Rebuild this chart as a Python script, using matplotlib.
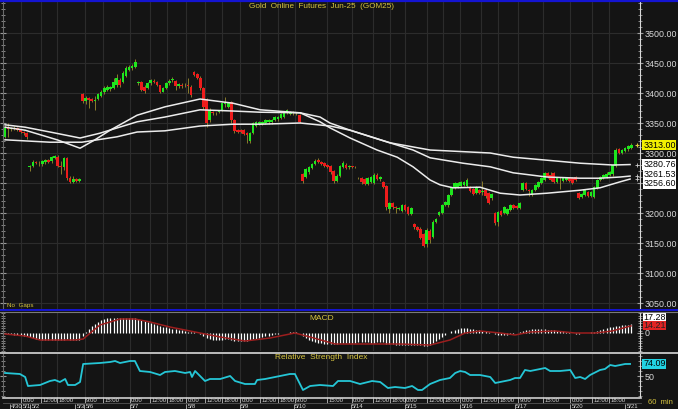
import matplotlib
matplotlib.use('Agg')
import matplotlib.pyplot as plt
import numpy as np
from matplotlib.ticker import MultipleLocator, FuncFormatter
from matplotlib.transforms import blended_transform_factory
from matplotlib.lines import Line2D

plt.rcParams['font.family'] = ['Liberation Sans', 'DejaVu Sans']

# 60 min bars, GOM25
opens = [3327, 3342, 3340, 3341, 3342, 3338, 3335, 3333, 3276, 3279,
         3285, 3283, 3282, 3285, 3288, 3286, 3292, 3294, 3278, 3276,
         3292, 3258, 3252, 3257, 3253, 3399, 3387, 3391, 3390, 3387,
         3390, 3395, 3401, 3405, 3406, 3408, 3413, 3422, 3418, 3428,
         3438, 3441, 3444, 3416, 3418, 3410, 3408, 3416, 3420, 3418,
         3413, 3402, 3408, 3416, 3421, 3420, 3412, 3414, 3413, 3413,
         3410, 3435, 3432, 3425, 3408, 3390, 3355, 3368, 3367, 3368,
         3372, 3382, 3377, 3385, 3355, 3338, 3338, 3338, 3333, 3320,
         3333, 3345, 3348, 3349, 3350, 3351, 3351, 3355, 3356, 3358,
         3360, 3367, 3365, 3366, 3366, 3363, 3265, 3260, 3268, 3275,
         3282, 3288, 3285, 3283, 3280, 3278, 3270, 3254, 3262, 3277,
         3280, 3276, 3278, 3277, 3259, 3258, 3256, 3249, 3252, 3250,
         3263, 3256, 3252, 3245, 3206, 3216, 3210, 3207, 3203, 3213,
         3210, 3198, 3182, 3176, 3174, 3165, 3148, 3170, 3160, 3185,
         3197, 3200, 3213, 3213, 3230, 3242, 3243, 3245, 3247, 3245,
         3243, 3240, 3233, 3238, 3235, 3238, 3233, 3225, 3200, 3185,
         3203, 3200, 3198, 3205, 3213, 3212, 3208, 3238, 3250, 3238,
         3230, 3238, 3243, 3250, 3255, 3266, 3263, 3267, 3252, 3256,
         3254, 3255, 3258, 3258, 3260, 3233, 3227, 3230, 3235, 3228,
         3227, 3242, 3255, 3258, 3260, 3263, 3265, 3278, 3307, 3300,
         3303, 3306, 3309]
closes = [3342, 3340, 3341, 3342, 3338, 3335, 3333, 3326, 3278, 3285,
          3283, 3284, 3286, 3288, 3285, 3293, 3295, 3278, 3276, 3292,
          3258, 3252, 3257, 3253, 3257, 3386, 3391, 3389, 3387, 3389,
          3398, 3402, 3408, 3410, 3410, 3418, 3425, 3413, 3433, 3442,
          3443, 3445, 3452, 3418, 3405, 3404, 3416, 3421, 3418, 3413,
          3402, 3408, 3416, 3420, 3424, 3412, 3415, 3412, 3414, 3412,
          3397, 3430, 3425, 3408, 3377, 3350, 3372, 3366, 3366, 3370,
          3383, 3384, 3383, 3355, 3337, 3335, 3335, 3332, 3330, 3333,
          3350, 3352, 3352, 3352, 3355, 3355, 3355, 3360, 3360, 3365,
          3367, 3372, 3368, 3368, 3367, 3352, 3253, 3273, 3277, 3282,
          3287, 3285, 3282, 3279, 3277, 3268, 3253, 3262, 3278, 3283,
          3275, 3278, 3276, 3276, 3258, 3251, 3249, 3258, 3260, 3263,
          3256, 3260, 3244, 3210, 3216, 3210, 3208, 3208, 3213, 3205,
          3198, 3208, 3176, 3172, 3158, 3145, 3172, 3155, 3185, 3190,
          3202, 3213, 3218, 3230, 3242, 3250, 3250, 3251, 3252, 3255,
          3237, 3232, 3243, 3233, 3236, 3228, 3217, 3232, 3183, 3202,
          3197, 3210, 3207, 3213, 3209, 3208, 3217, 3250, 3240, 3236,
          3238, 3247, 3252, 3258, 3267, 3260, 3255, 3252, 3258, 3257,
          3258, 3258, 3253, 3250, 3255, 3225, 3232, 3238, 3228, 3235,
          3243, 3255, 3260, 3263, 3265, 3268, 3280, 3305, 3300, 3305,
          3308, 3312, 3313]
highs = [3346, 3350, 3344, 3345, 3344, 3340, 3337, 3335, 3280, 3288,
         3287, 3286, 3288, 3290, 3290, 3295, 3297, 3296, 3286, 3294,
         3294, 3262, 3262, 3259, 3259, 3400, 3395, 3394, 3392, 3395,
         3400, 3405, 3411, 3413, 3412, 3425, 3432, 3425, 3436, 3445,
         3446, 3448, 3457, 3420, 3420, 3413, 3418, 3424, 3423, 3420,
         3414, 3410, 3418, 3424, 3427, 3422, 3417, 3416, 3416, 3425,
         3413, 3437, 3434, 3428, 3410, 3392, 3375, 3370, 3369, 3372,
         3385, 3393, 3385, 3387, 3357, 3340, 3340, 3340, 3335, 3335,
         3352, 3354, 3354, 3354, 3357, 3357, 3357, 3362, 3362, 3367,
         3369, 3374, 3370, 3370, 3369, 3365, 3267, 3275, 3279, 3284,
         3290, 3292, 3287, 3285, 3282, 3280, 3272, 3265, 3280, 3286,
         3284, 3280, 3279, 3278, 3260, 3260, 3258, 3260, 3262, 3266,
         3266, 3262, 3254, 3247, 3218, 3218, 3212, 3210, 3215, 3215,
         3212, 3210, 3184, 3178, 3176, 3167, 3175, 3173, 3188, 3192,
         3204, 3215, 3220, 3232, 3244, 3252, 3252, 3253, 3254, 3258,
         3245, 3242, 3245, 3240, 3253, 3240, 3235, 3234, 3202, 3204,
         3205, 3212, 3209, 3215, 3215, 3214, 3219, 3252, 3252, 3240,
         3240, 3249, 3254, 3260, 3269, 3268, 3268, 3269, 3260, 3260,
         3260, 3260, 3260, 3260, 3262, 3235, 3234, 3240, 3237, 3237,
         3245, 3257, 3262, 3265, 3268, 3270, 3282, 3308, 3309, 3307,
         3310, 3314, 3316]
lows = [3325, 3326, 3336, 3338, 3336, 3333, 3330, 3324, 3270, 3277,
        3281, 3278, 3279, 3282, 3283, 3284, 3290, 3276, 3265, 3272,
        3255, 3250, 3250, 3251, 3251, 3383, 3382, 3375, 3385, 3372,
        3388, 3393, 3399, 3403, 3404, 3406, 3410, 3410, 3416, 3426,
        3436, 3439, 3442, 3414, 3403, 3400, 3406, 3414, 3416, 3411,
        3400, 3401, 3406, 3414, 3418, 3405, 3408, 3408, 3410, 3400,
        3393, 3428, 3423, 3405, 3374, 3343, 3352, 3364, 3364, 3366,
        3370, 3377, 3375, 3350, 3334, 3333, 3333, 3330, 3317, 3317,
        3331, 3343, 3346, 3347, 3348, 3349, 3349, 3353, 3354, 3356,
        3358, 3365, 3363, 3364, 3364, 3350, 3250, 3258, 3265, 3273,
        3280, 3283, 3280, 3277, 3275, 3265, 3250, 3252, 3260, 3275,
        3273, 3274, 3275, 3275, 3256, 3249, 3247, 3247, 3250, 3249,
        3255, 3254, 3242, 3205, 3200, 3206, 3200, 3205, 3201, 3203,
        3196, 3196, 3174, 3170, 3156, 3143, 3143, 3150, 3158, 3183,
        3195, 3198, 3211, 3210, 3228, 3240, 3241, 3243, 3245, 3243,
        3235, 3230, 3231, 3231, 3230, 3225, 3215, 3222, 3180, 3178,
        3195, 3198, 3196, 3203, 3207, 3206, 3206, 3236, 3238, 3228,
        3228, 3236, 3241, 3248, 3253, 3258, 3253, 3250, 3250, 3240,
        3252, 3253, 3251, 3248, 3253, 3223, 3225, 3228, 3226, 3226,
        3225, 3240, 3253, 3256, 3258, 3261, 3262, 3276, 3298, 3298,
        3301, 3304, 3307]

# moving averages, read at a few bars
ma_fast_at = [0, 6.5, 16.8, 24.2, 29, 33.9, 42.6, 51.6, 62.9, 73.5, 82.3, 95.2, 101.6,
              104.8, 111.3, 120, 126.5, 131.6, 137.1, 140.3, 144.5, 153.2, 159.7, 166.1,
              174.8, 185.5, 191.9, 198.4, 201.6]
ma_fast = [3343, 3338, 3322, 3308, 3322, 3338, 3363, 3377, 3390, 3383, 3372, 3367, 3352,
           3342, 3325, 3305, 3293, 3277, 3255, 3247, 3242, 3243, 3233, 3230,
           3233, 3238, 3242, 3252, 3256.6]
ma_mid_at = [0, 6.5, 14.5, 24.2, 30.6, 42.6, 51.6, 62.9, 73.5, 82.3, 95.2, 101.6, 104.8,
             111.3, 121, 131.6, 137.1, 147.7, 156.5, 163.9, 174.8, 185.5, 191.9, 198.4, 201.6]
ma_mid = [3347, 3343, 3335, 3325, 3333, 3352, 3360, 3372, 3370, 3368, 3367, 3360, 3350,
          3338, 3322, 3305, 3292, 3283, 3277, 3267, 3260, 3258, 3258, 3260, 3261.53]
ma_slow_at = [0, 14.5, 24.8, 36.1, 42.6, 51.6, 62.9, 73.5, 82.3, 95.2, 104.8, 111.3,
              124.2, 137.1, 156.5, 163.9, 174.8, 185.5, 196.1, 201.6]
ma_slow = [3322, 3318, 3318, 3327, 3335, 3337, 3345, 3348, 3348, 3350, 3345, 3338,
           3317, 3305, 3300, 3293, 3288, 3283, 3280, 3280.76]

macd = [0, -2, -2, -4, -4, -4, -6, -6, -8, -10,
        -12, -12, -14, -14, -14, -14, -14, -14, -14, -14,
        -12, -14, -14, -14, -14, -6, 2, 8, 14, 18,
        22, 26, 28, 30, 30, 30, 30, 30, 30, 30,
        30, 30, 30, 28, 26, 24, 22, 20, 18, 16,
        14, 12, 12, 10, 8, 8, 6, 6, 4, 2,
        2, 2, 0, -2, -6, -10, -12, -14, -14, -14,
        -14, -12, -12, -14, -16, -16, -16, -16, -16, -14,
        -12, -12, -10, -8, -6, -6, -4, -2, -2, 0,
        0, 0, 2, 2, 2, 0, -6, -10, -14, -16,
        -18, -20, -20, -22, -22, -22, -22, -22, -20, -20,
        -20, -20, -20, -20, -18, -18, -18, -18, -20, -20,
        -18, -18, -18, -22, -22, -22, -24, -24, -24, -24,
        -24, -24, -24, -24, -24, -26, -26, -24, -20, -16,
        -12, -8, -4, 0, 4, 6, 8, 10, 10, 10,
        8, 8, 6, 6, 4, 4, 2, 0, -2, -4,
        -4, -4, -4, -2, -2, 0, 2, 4, 6, 6,
        8, 8, 8, 8, 8, 6, 6, 6, 4, 4,
        4, 2, 2, 0, -2, -2, 0, 0, 0, 2,
        2, 4, 6, 8, 10, 12, 12, 14, 15, 16,
        17, 17, 17.28]
signal_at = [0, 6.5, 11.3, 22.6, 25.2, 30.6, 37.1, 41.9, 46.8, 53.2, 62.9, 69.4, 77.4,
             85.5, 93.5, 98.4, 106.5, 114.5, 127.4, 137.1, 143.5, 148.4, 153.2, 159.7,
             164.5, 169.4, 177.4, 183.9, 190.3, 195.8, 201.9]
signal = [-2, -6, -14, -14, -12, 16, 28, 28, 22, 12, 0, -8, -16,
          -10, 0, -8, -22, -22, -22, -24, -14, 0, 4, 0,
          -4, 2, 4, 0, 0, 4, 14.21]

rsi_at = [0, 4.8, 6.5, 7.4, 11.3, 12.9, 14.5, 16.1, 17.7, 19.4, 20.3, 22.6, 24.2, 25.2,
          30.6, 33.9, 35.5, 37.1, 40.3, 41.9, 43.5, 46.8, 50, 51.6, 54.8, 58.1, 59.7,
          60.3, 61.3, 64.5, 66.1, 69.4, 72.6, 74.2, 77.4, 80.6, 81.3, 83.9, 87.1, 88.7,
          91.9, 93.5, 96.1, 98.4, 101.6, 105.8, 107.4, 111.3, 114.5, 118.4, 121, 123.5,
          125.8, 129, 131.3, 133.2, 134.5, 137.1, 140.3, 143.5, 145.2, 146.8, 148.4, 150,
          153.2, 156.5, 158.1, 159.7, 162.9, 164.5, 166.1, 167.7, 169.4, 172.6, 174.2,
          175.8, 179, 182.3, 183.9, 185.5, 187.1, 188.7, 191.9, 193.5, 195.2, 196.8, 200,
          201.6]
rsi = [56, 54, 48, 30, 32, 36, 40, 42, 38, 44, 32, 32, 38, 74,
       76, 78, 80, 76, 80, 80, 60, 58, 52, 58, 60, 56, 58,
       48, 60, 40, 44, 44, 50, 40, 34, 34, 42, 44, 48, 50,
       54, 54, 22, 30, 32, 30, 40, 40, 34, 40, 38, 26,
       28, 26, 30, 22, 22, 34, 42, 46, 56, 60, 58, 52,
       52, 48, 36, 38, 42, 46, 46, 62, 60, 64, 66,
       60, 60, 62, 46, 48, 44, 52, 62, 64, 72, 70, 74,
       74.09]

price_ticks = [3050, 3100, 3150, 3200, 3250, 3300, 3350, 3400, 3450, 3500]
time_ticks = [5.2, 11.6, 16.8, 25.8, 31.6, 40.3, 46.8, 52.3, 58.4, 64.5, 70.0, 75.8,
              82.3, 88.1, 93.5, 103.9, 111.9, 118.7, 124.2, 129.0, 136.1, 141.3, 146.8,
              153.5, 159.0, 165.5, 173.5, 182.3, 189.4, 194.8]
time_labels = ['0:00', '12:00', '18:00', '9:00', '15:00', '0:00', '12:00', '18:00',
               '0:00', '12:00', '18:00', '0:00', '12:00', '18:00', '9:00', '15:00',
               '0:00', '12:00', '18:00', '0:00', '12:00', '18:00', '0:00', '12:00',
               '18:00', '9:00', '15:00', '0:00', '12:00', '18:00']
date_ticks = [1.6, 5.2, 8.1, 22.6, 25.5, 40.3, 58.4, 75.8, 93.2, 111.6, 129.0, 146.8,
              164.5, 182.3, 200.0]
date_labels = ['4/30', '5/1', '5/2', '5/3', '5/6', '5/7', '5/8', '5/9', '5/10', '5/14',
               '5/15', '5/16', '5/17', '5/20', '5/21']

BG = '#141414'
GRID = '#2c2c2c'
GREEN = '#1ee61e'
RED = '#ee1c1c'
WICK = '#8a7d2c'
YELLOW = '#d6c440'
TXT = '#dadada'
FS = 6.4

W, H = 678, 409
fig = plt.figure(figsize=(W / 100, H / 100), dpi=100, facecolor=BG)


def box(x0, y0, x1, y1):
    return [x0 / W, 1 - y1 / H, (x1 - x0) / W, (y1 - y0) / H]


XL = (-0.65, 204.8)
ax = fig.add_axes(box(3, 2, 640, 309))
axm = fig.add_axes(box(3, 312, 640, 351))
axr = fig.add_axes(box(3, 354, 640, 397))
axx = fig.add_axes(box(3, 397, 640, 409))

for a in (ax, axm, axr):
    a.set_facecolor(BG)
    a.set_xlim(*XL)
    a.set_xticks(time_ticks)
    a.tick_params(axis='x', length=0, labelbottom=False)
    a.grid(axis='x', color=GRID, lw=0.8)
    for s in ('top', 'bottom'):
        a.spines[s].set_visible(False)
    a.spines['left'].set_color('#6a6a6a')
    a.spines['right'].set_color('#d8d8d8')
    a.tick_params(axis='y', which='both', left=True, right=True, labelleft=False,
                  labelright=True, direction='inout', colors='#9a9a9a',
                  labelcolor=TXT, labelsize=FS, pad=1)
    a.tick_params(axis='y', which='major', length=5)
    a.tick_params(axis='y', which='minor', length=3)
    a.set_axisbelow(True)

# price panel
idx = np.arange(len(closes))
o = np.array(opens, dtype=float)
c = np.array(closes, dtype=float)
up = c >= o
ax.vlines(idx, lows, highs, color=WICK, lw=0.7, zorder=2)
ax.bar(idx[up], (c - o)[up], bottom=o[up], width=0.86, color=GREEN, zorder=3)
ax.bar(idx[~up], (o - c)[~up], bottom=c[~up], width=0.86, color=RED, zorder=3)
for at, v in ((ma_fast_at, ma_fast), (ma_mid_at, ma_mid), (ma_slow_at, ma_slow)):
    ax.plot(at, v, color='#ececec', lw=1.1, zorder=4)

ax.set_ylim(3040, 3551.7)
ax.set_yticks(price_ticks)
ax.yaxis.set_minor_locator(MultipleLocator(10))
ax.yaxis.set_major_formatter(FuncFormatter(lambda v, p: '' if v == 3250 else '%.2f' % v))
ax.grid(axis='y', color=GRID, lw=0.8)

tr = blended_transform_factory(ax.transAxes, ax.transData)
lab = dict(transform=tr, va='center', ha='left', fontsize=FS, zorder=6)
ax.text(1.005, closes[-1], '%.2f' % closes[-1], color='black',
        bbox=dict(fc='#f2f000', ec='none', pad=0.5), **lab)
ax.text(1.005, ma_slow[-1], '%.2f' % ma_slow[-1], color='black',
        bbox=dict(fc='white', ec='none', pad=0.5), **lab)
ax.text(1.005, ma_mid[-1] + 2, '%.2f' % ma_mid[-1], color='black',
        bbox=dict(fc='white', ec='none', pad=0.4), **lab)
ax.text(1.005, ma_fast[-1] - 8, '%.2f' % ma_fast[-1], color='black',
        bbox=dict(fc='white', ec='none', pad=0.4), **lab)
ax.plot([idx[-1] + 1.9], [closes[-1]], marker='+', ms=3, color=YELLOW, mew=0.8)
ax.plot([idx[-1] + 1.9] * 3, [ma_slow[-1], ma_mid[-1], ma_fast[-1]], ls='none',
        marker='+', ms=3, color='#cccccc', mew=0.6)

ax.text(0.5, 0.984, 'Gold  Online  Futures  Jun-25  (GOM25)', transform=ax.transAxes,
        ha='center', va='center', fontsize=5.9, color=YELLOW)
ax.text(0.006, 0.013, 'No  Gaps', transform=ax.transAxes, ha='left', va='center',
        fontsize=4.5, color=YELLOW)

# MACD panel
axm.vlines(idx, 0, macd, color='white', lw=0.9, zorder=3)
axm.plot(signal_at, signal, color='#9c1e1e', lw=1.1, zorder=4)
axm.set_ylim(-36, 42)
axm.set_yticks([0])
axm.yaxis.set_minor_locator(MultipleLocator(5))
axm.text(0.5, 0.846, 'MACD', transform=axm.transAxes, ha='center', va='center',
         fontsize=6, color=YELLOW)
trm = blended_transform_factory(axm.transAxes, axm.transData)
axm.text(1.005, 32, '%.2f' % macd[-1], transform=trm, va='center', ha='left', fontsize=FS,
         color='black', bbox=dict(fc='white', ec='none', pad=0.3))
axm.text(1.005, 15, '%.2f' % signal[-1], transform=trm, va='center', ha='left', fontsize=FS,
         color='#222222', bbox=dict(fc='#e02424', ec='none', pad=0.3))

# RSI panel
axr.plot(rsi_at, rsi, color='#25c6d6', lw=1.3, zorder=3)
axr.set_ylim(8, 94)
axr.set_yticks([50])
axr.yaxis.set_minor_locator(MultipleLocator(10))
axr.text(0.5, 0.907, 'Relative  Strength  Index', transform=axr.transAxes, ha='center',
         va='center', fontsize=6, color=YELLOW)
trr = blended_transform_factory(axr.transAxes, axr.transData)
axr.text(1.005, rsi[-1], '%.2f' % rsi[-1], transform=trr, va='center', ha='left',
         fontsize=FS, color='black', bbox=dict(fc='#22d2e2', ec='none', pad=0.5))

# time axis strip
axx.set_facecolor(BG)
axx.set_xlim(*XL)
axx.set_ylim(0, 1)
axx.axis('off')
axx.vlines(time_ticks, 0.5, 1.0, color='#bdbdbd', lw=0.6)
axx.vlines(date_ticks, 0.0, 0.45, color='#bdbdbd', lw=0.6)
for p, t in zip(time_ticks, time_labels):
    axx.text(p + 0.4, 0.74, t, fontsize=4.3, color=TXT, ha='left', va='center')
for p, t in zip(date_ticks, date_labels):
    axx.text(p + 0.4, 0.2, t, fontsize=4.3, color=TXT, ha='left', va='center')


# frame lines
def hline(py, color, lw, x0=0, x1=W):
    fig.add_artist(Line2D([x0 / W, x1 / W], [1 - py / H, 1 - py / H], color=color, lw=lw))


hline(0.8, '#1414d2', 1.6)
hline(309.5, '#1414d2', 1.4)
hline(311.5, '#7a7a7a', 0.8)
hline(352.5, '#bcbcbc', 1.4)
hline(397.5, '#cfcfcf', 1.2, 3, 641)
hline(402.8, '#555555', 0.6, 3, 641)
fig.text(660 / W, 1 - 403 / H, '60  min', fontsize=5.5, color=YELLOW, ha='center', va='center')

fig.savefig('out.png', dpi=100, facecolor=BG)
